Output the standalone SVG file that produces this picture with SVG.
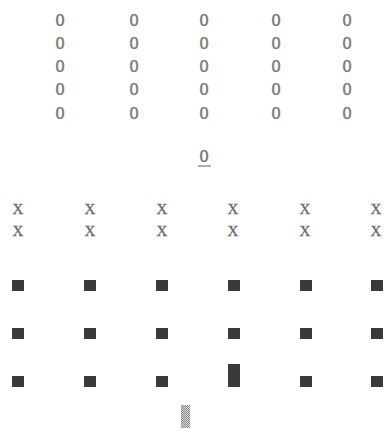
<svg xmlns="http://www.w3.org/2000/svg" width="385" height="436" viewBox="0 0 385 436">
<defs>
<style>
.t{font-family:"DejaVu Sans Mono","Liberation Mono",monospace;font-size:16px;fill:#7a7a7a;stroke:#7a7a7a;stroke-width:0.3;text-anchor:middle}
.x{font-family:"Liberation Serif","DejaVu Serif",serif;font-size:15px;fill:#6a6a6a;stroke:#6a6a6a;stroke-width:0.3;text-anchor:middle}
.sq{fill:#3a3a3a}
</style>
<pattern id="chk" width="2" height="2" patternUnits="userSpaceOnUse">
<rect width="2" height="2" fill="#d8d8d8"/>
<rect width="1" height="1" fill="#8a8a8a"/>
<rect x="1" y="1" width="1" height="1" fill="#8a8a8a"/>
</pattern>
</defs>
<rect width="385" height="436" fill="#ffffff"/>
<g id="circles">
<text class="t" x="60" y="26">O</text><text class="t" x="134" y="26">O</text><text class="t" x="204" y="26">O</text><text class="t" x="276" y="26">O</text><text class="t" x="347" y="26">O</text>
<text class="t" x="60" y="49">O</text><text class="t" x="134" y="49">O</text><text class="t" x="204" y="49">O</text><text class="t" x="276" y="49">O</text><text class="t" x="347" y="49">O</text>
<text class="t" x="60" y="72">O</text><text class="t" x="134" y="72">O</text><text class="t" x="204" y="72">O</text><text class="t" x="276" y="72">O</text><text class="t" x="347" y="72">O</text>
<text class="t" x="60" y="95">O</text><text class="t" x="134" y="95">O</text><text class="t" x="204" y="95">O</text><text class="t" x="276" y="95">O</text><text class="t" x="347" y="95">O</text>
<text class="t" x="60" y="119">O</text><text class="t" x="134" y="119">O</text><text class="t" x="204" y="119">O</text><text class="t" x="276" y="119">O</text><text class="t" x="347" y="119">O</text>
</g>
<g id="underlined-o">
<text class="t" x="204" y="162">O</text>
<line x1="198" y1="166" x2="211" y2="166" stroke="#7a7a7a" stroke-width="1.2"/>
</g>
<g id="crosses">
<text class="x" x="18" y="214">X</text><text class="x" x="90" y="214">X</text><text class="x" x="162" y="214">X</text><text class="x" x="233" y="214">X</text><text class="x" x="305" y="214">X</text><text class="x" x="376" y="214">X</text>
<text class="x" x="18" y="236">X</text><text class="x" x="90" y="236">X</text><text class="x" x="162" y="236">X</text><text class="x" x="233" y="236">X</text><text class="x" x="305" y="236">X</text><text class="x" x="376" y="236">X</text>
</g>
<g id="squares">
<rect class="sq" x="12" y="280" width="12" height="11"/><rect class="sq" x="84" y="280" width="12" height="11"/><rect class="sq" x="156" y="280" width="12" height="11"/><rect class="sq" x="228" y="280" width="12" height="11"/><rect class="sq" x="300" y="280" width="12" height="11"/><rect class="sq" x="371" y="280" width="12" height="11"/>
<rect class="sq" x="12" y="328" width="12" height="11"/><rect class="sq" x="84" y="328" width="12" height="11"/><rect class="sq" x="156" y="328" width="12" height="11"/><rect class="sq" x="228" y="328" width="12" height="11"/><rect class="sq" x="300" y="328" width="12" height="11"/><rect class="sq" x="371" y="328" width="12" height="11"/>
<rect class="sq" x="12" y="376" width="12" height="11"/><rect class="sq" x="84" y="376" width="12" height="11"/><rect class="sq" x="156" y="376" width="12" height="11"/><rect class="sq" x="228" y="364" width="12" height="23"/><rect class="sq" x="300" y="376" width="12" height="11"/><rect class="sq" x="371" y="376" width="12" height="11"/>
</g>
<g id="hatched">
<rect x="181" y="405" width="9" height="23" fill="url(#chk)"/>
</g>
</svg>
